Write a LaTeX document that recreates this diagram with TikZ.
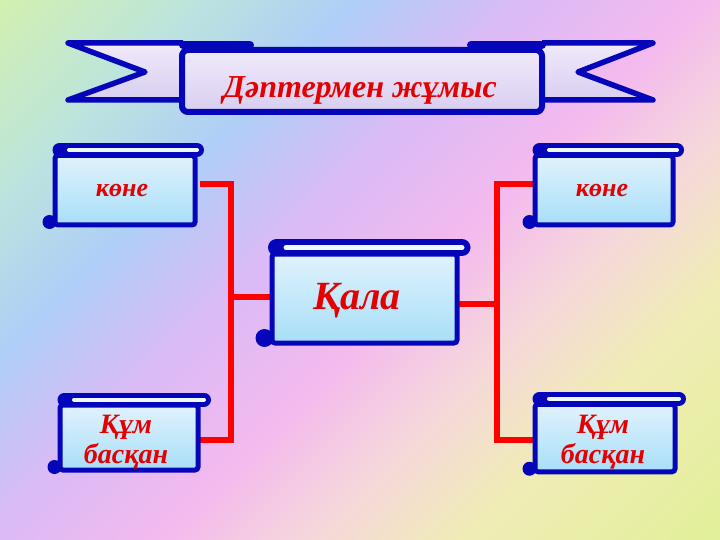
\documentclass[tikz,border=0pt]{standalone}
\usepackage{fontspec}
\setmainfont{Liberation Serif}
\usetikzlibrary{calc}
\definecolor{dblue}{RGB}{5,5,185}
\definecolor{tred}{RGB}{228,0,0}
\definecolor{lred}{RGB}{255,0,0}
\definecolor{rollw}{RGB}{240,248,255}
\definecolor{bodytop}{RGB}{224,242,252}
\definecolor{bodybot}{RGB}{168,222,248}
\definecolor{bantop}{RGB}{240,234,250}
\definecolor{banbot}{RGB}{216,206,240}
\definecolor{bgA}{RGB}{210,240,176}
\definecolor{bgB}{RGB}{188,228,222}
\definecolor{bgC}{RGB}{176,206,248}
\definecolor{bgD}{RGB}{218,186,246}
\definecolor{bgE}{RGB}{244,186,238}
\definecolor{bgF}{RGB}{245,216,218}
\definecolor{bgG}{RGB}{240,236,182}
\definecolor{bgH}{RGB}{226,240,152}
\pgfdeclarelayer{bgl}
\pgfdeclarelayer{cl}
\pgfsetlayers{bgl,cl,main}
\tikzset{
  body/.style={draw=dblue, line width=5pt, rounded corners=3pt, outer sep=0pt,
    top color=bodytop, bottom color=bodybot, inner sep=0pt},
  conn/.style={draw=lred, line width=6.5pt},
  lbl/.style={text=tred, font=\bfseries\itshape, inner sep=0pt, align=center},
  bline/.style={draw=dblue, line width=5.5pt, line join=round},
}
\newcommand\rollcurl[6]{%
  % #1 node, #2 roll thickness, #3 white thickness, #4 curl radius, #5 right overhang, #6 roll centre above body top
  \draw[dblue, line width=#2, line cap=round]
    ([xshift=4.5pt, yshift=#6]#1.north west) -- ([xshift=#5, yshift=#6]#1.north east);
  \draw[rollw, line width=#3, line cap=round]
    ([xshift=14pt, yshift=#6]#1.north west) -- ([xshift=#5, yshift=#6]#1.north east);
  \fill[dblue] ([xshift=-#4+1.5pt, yshift=#4-4pt]#1.south west) circle[radius=#4];
}
\begin{document}
\begin{tikzpicture}[x=1pt, y=-1pt]
\useasboundingbox (0,0) rectangle (720,540);
% background
\begin{pgfonlayer}{bgl}
\begin{scope}
\clip (0,0) rectangle (720,540);
\foreach \ca/\cb/\cola/\colb in {0/200/bgA/bgB, 200/360/bgB/bgC, 360/520/bgC/bgD,
   520/700/bgD/bgE, 700/850/bgE/bgF, 850/1000/bgF/bgG, 1000/1260/bgG/bgH} {
  \foreach \i in {0,...,19} {
    \pgfmathsetmacro\pa{\ca+(\cb-\ca)*\i/20}
    \pgfmathsetmacro\pb{\ca+(\cb-\ca)*(\i+1)/20+1}
    \pgfmathtruncatemacro\mix{100-5*\i-2}
    \fill[\cola!\mix!\colb] (\pa+600,-600) -- (\pb+600,-600) -- (\pb-1200,1200) -- (\pa-1200,1200) -- cycle;
  }
}
\end{scope}
\end{pgfonlayer}

% banner tails
\path[bline, top color=bantop, bottom color=banbot]
  (183,43) -- (68,43) -- (145,72) -- (68,100) -- (183,100);
\path[bline, top color=bantop, bottom color=banbot]
  (542,43) -- (653,43) -- (578,72) -- (653,100) -- (542,100);
\draw[dblue, line width=8pt, line cap=round] (183,45) -- (250,45);
\draw[dblue, line width=8pt, line cap=round] (471,45) -- (542,45);
\node[draw=dblue, line width=6pt, rounded corners=6pt, top color=bantop, bottom color=banbot,
  minimum width=360pt, minimum height=62pt, outer sep=0pt] (title) at (362,81) {};
\node[lbl, font=\bfseries\itshape\fontsize{32}{34}\selectfont] (tt) at (360,90) {Дәптермен жұмыс};

% scroll bodies
\node[body, minimum width=140pt, minimum height=69.5pt] (k1) at (125,190.25) {};
\node[body, minimum width=138pt, minimum height=65pt] (q1) at (129,437.5) {};
\node[body, minimum width=138pt, minimum height=69.5pt] (k2) at (604,190.25) {};
\node[body, minimum width=140pt, minimum height=67.5pt] (q2) at (605,438) {};
\node[body, minimum width=185pt, minimum height=89pt] (kala) at (364.5,298.5) {};
\rollcurl{k1}{14pt}{4pt}{7pt}{2pt}{5.5pt}
\rollcurl{q1}{14pt}{4pt}{7pt}{6pt}{5.5pt}
\rollcurl{k2}{14pt}{4pt}{7pt}{4pt}{5.5pt}
\rollcurl{q2}{14pt}{4pt}{7pt}{4pt}{5.5pt}
\rollcurl{kala}{17pt}{5pt}{9pt}{5pt}{6.5pt}

% connectors
\coordinate (jl) at (231,297);
\coordinate (jr) at (497,304);
\begin{pgfonlayer}{cl}
\draw[conn] ([xshift=5pt, yshift=6pt]k1.east) -| (jl) |- ([yshift=-2.5pt]q1.east);
\draw[conn] (jl) -- ([yshift=1.5pt]kala.west);
\draw[conn] ([yshift=6pt]k2.west) -| (jr) |- ([yshift=-2pt]q2.west);
\draw[conn] ([yshift=-5.5pt]kala.east) -- (jr);
\end{pgfonlayer}

% labels
\node[lbl, font=\bfseries\itshape\fontsize{26}{28}\selectfont] (t1) at (122,191) {көне};
\node[lbl, font=\bfseries\itshape\fontsize{26}{28}\selectfont] (t2) at (602,191) {көне};
\node[lbl, font=\bfseries\itshape\fontsize{28}{30}\selectfont] (t3) at (126,442) {Құм\\басқан};
\node[lbl, font=\bfseries\itshape\fontsize{28}{30}\selectfont] (t4) at (603,442) {Құм\\басқан};
\node[lbl, font=\bfseries\itshape\fontsize{40}{42}\selectfont] (t5) at (357,301) {Қала};
\end{tikzpicture}
\end{document}
